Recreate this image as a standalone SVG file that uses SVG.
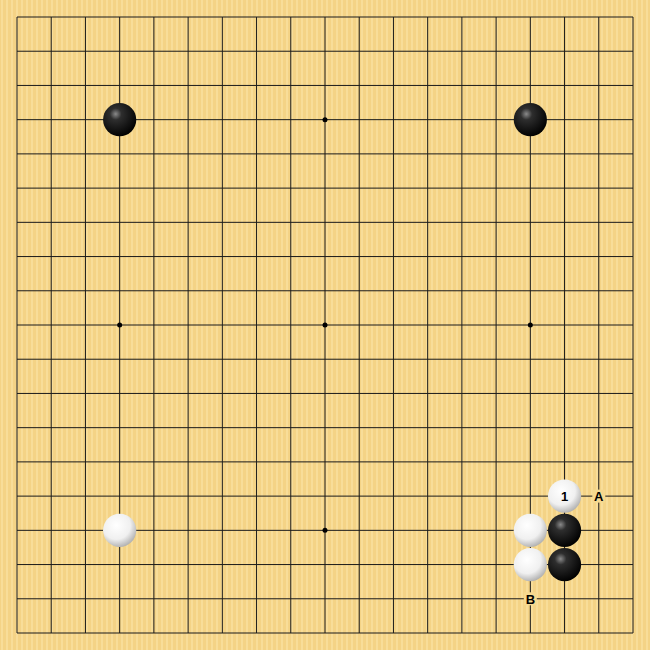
<svg xmlns="http://www.w3.org/2000/svg" width="650" height="650" viewBox="0 0 650 650">
<style>
.ln{stroke:#1a1a1a;stroke-width:1;fill:none}
.lbl{font-family:"Liberation Sans",Arial,sans-serif;font-weight:bold;font-size:13px;text-anchor:middle;dominant-baseline:central;fill:#000}
.bg{fill:#F6D98F}
</style>
<defs>
<pattern id="wood" width="5" height="650" patternUnits="userSpaceOnUse">
<rect width="5" height="650" fill="#F4D386"/>
<rect x="1" width="2" height="650" fill="#F8DD99"/>
</pattern>
<radialGradient id="gb" cx="0.38" cy="0.33" r="0.7">
<stop offset="0" stop-color="#8a8a8a"/>
<stop offset="0.25" stop-color="#2e2e2e"/>
<stop offset="1" stop-color="#000"/>
</radialGradient>
<radialGradient id="gw" cx="0.4" cy="0.35" r="0.7">
<stop offset="0" stop-color="#ffffff"/>
<stop offset="0.6" stop-color="#f0f0f0"/>
<stop offset="1" stop-color="#aaaaaa"/>
</radialGradient>
</defs>
<rect width="650" height="650" fill="url(#wood)"/>
<g id="grid">
<path class="ln" d="M17 17H633M17 51.22H633M17 85.44H633M17 119.67H633M17 153.89H633M17 188.11H633M17 222.33H633M17 256.56H633M17 290.78H633M17 325H633M17 359.22H633M17 393.44H633M17 427.67H633M17 461.89H633M17 496.11H633M17 530.33H633M17 564.56H633M17 598.78H633M17 633H633"/>
<path class="ln" d="M17 17V633M51.22 17V633M85.44 17V633M119.67 17V633M153.89 17V633M188.11 17V633M222.33 17V633M256.56 17V633M290.78 17V633M325 17V633M359.22 17V633M393.44 17V633M427.67 17V633M461.89 17V633M496.11 17V633M530.33 17V633M564.56 17V633M598.78 17V633M633 17V633"/>
</g>
<g id="stars" fill="#000">
<circle cx="119.67" cy="119.67" r="2.5"/><circle cx="325" cy="119.67" r="2.5"/><circle cx="530.33" cy="119.67" r="2.5"/>
<circle cx="119.67" cy="325" r="2.5"/><circle cx="325" cy="325" r="2.5"/><circle cx="530.33" cy="325" r="2.5"/>
<circle cx="119.67" cy="530.33" r="2.5"/><circle cx="325" cy="530.33" r="2.5"/><circle cx="530.33" cy="530.33" r="2.5"/>
</g>
<g id="black-stones" fill="url(#gb)">
<circle id="b1" cx="119.67" cy="119.67" r="16.6"/>
<circle id="b2" cx="530.33" cy="119.67" r="16.6"/>
<circle id="b3" cx="564.56" cy="530.33" r="16.6"/>
<circle id="b4" cx="564.56" cy="564.56" r="16.6"/>
</g>
<g id="white-stones" fill="url(#gw)">
<circle id="w1" cx="119.67" cy="530.33" r="16.6"/>
<circle id="w2" cx="530.33" cy="530.33" r="16.6"/>
<circle id="w3" cx="530.33" cy="564.56" r="16.6"/>
<circle id="w4" cx="564.56" cy="496.11" r="16.6"/>
</g>
<g id="labels">
<text class="lbl" x="564.56" y="496.61">1</text>
<rect class="bg" x="592.3" y="489.6" width="13" height="13"/>
<text class="lbl" x="598.78" y="496.61">A</text>
<rect class="bg" x="523.8" y="592.3" width="13" height="13"/>
<text class="lbl" x="530.33" y="599.28">B</text>
</g>
</svg>
